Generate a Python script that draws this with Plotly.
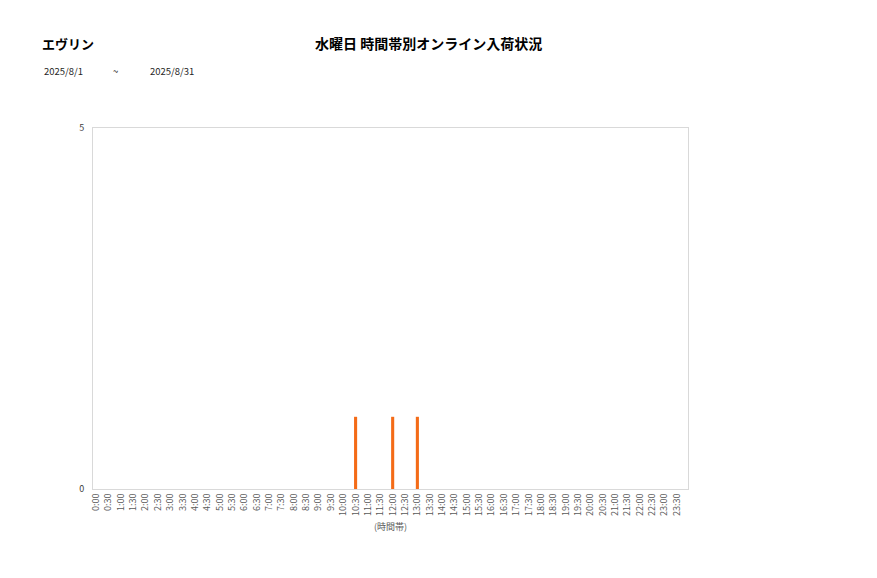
import plotly.graph_objects as go

time_labels = [f"{h}:{m:02d}" for h in range(24) for m in (0, 30)]
values = [0] * 48
values[time_labels.index("10:30")] = 1
values[time_labels.index("12:00")] = 1
values[time_labels.index("13:00")] = 1

store_name = "エヴリン"
chart_title = "水曜日 時間帯別オンライン入荷状況"
date_from = "2025/8/1"
date_to = "2025/8/31"
x_title = "(時間帯)"

FONT = "Noto Sans CJK JP"
OFF = 8  # page body margin
W, H = 877 - 2 * OFF, 578 - 2 * OFF
L, R, T, B = 93 - OFF, 877 - 688 - OFF, 128 - OFF, 578 - 489 - OFF

fig = go.Figure()
fig.add_trace(go.Bar(
    x=list(range(48)), y=values, width=0.25,
    marker=dict(color="#F46B17", line=dict(width=0)),
))

fig.update_layout(
    width=W, height=H,
    margin=dict(l=L, r=R, t=T, b=B),
    paper_bgcolor="white", plot_bgcolor="white",
    showlegend=False,
    font=dict(family=FONT, size=9, color="#404040"),
    xaxis=dict(
        tickmode="array", tickvals=list(range(48)), ticktext=time_labels,
        tickangle=-90, range=[-0.25, 47.9], showgrid=False, zeroline=False,
        showline=True, linecolor="#D9D9D9", mirror=True, ticks="",
        tickfont=dict(size=9, color="#595959"),
        title=dict(text=x_title, font=dict(size=9, color="#595959"), standoff=8),
    ),
    yaxis=dict(
        range=[0, 5], tickvals=[0, 5], showgrid=False, zeroline=False,
        showline=True, linecolor="#D9D9D9", mirror=True, ticks="",
        tickfont=dict(size=9, color="#404040"), ticklabelstandoff=6,
    ),
)

pw = W - L - R
ph = H - T - B
anns = []
for text, px, py, size, anchor, bold in [
    (store_name, 40, 43, 13, "left", True),
    (chart_title, 428, 43, 14, "center", True),
    (date_from, 42, 71, 9.5, "left", False),
    ("~", 115, 71, 9.5, "center", False),
    (date_to, 148, 71, 9.5, "left", False),
]:
    px -= OFF
    py -= OFF
    anns.append(dict(
        text=f"<b>{text}</b>" if bold else text, xref="paper", yref="paper",
        x=(px - L) / pw, y=1 + (T - py) / ph,
        xanchor=anchor, yanchor="middle", showarrow=False,
        font=dict(family=FONT, size=size, color="#000000" if bold else "#262626"),
    ))
fig.update_layout(annotations=anns)

fig.write_html("out.html")
